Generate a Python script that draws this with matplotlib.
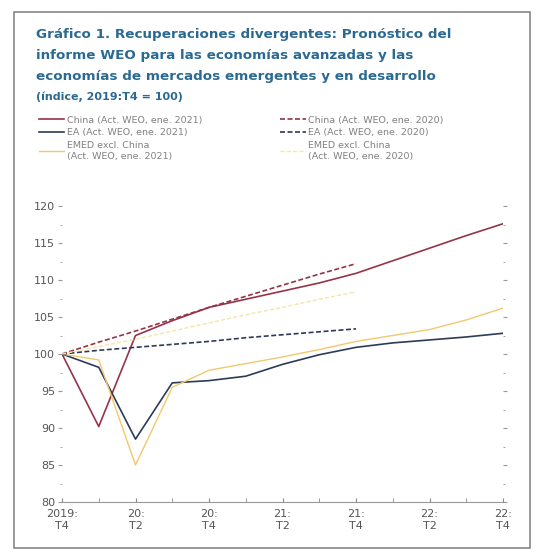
import matplotlib
matplotlib.use('Agg')
import matplotlib.pyplot as plt
from matplotlib.ticker import MultipleLocator
from matplotlib.patches import Rectangle

# trimestres 2019:T4 ... 22:T4
quarters = list(range(13))
tick_labels = ['2019:\nT4', '20:\nT2', '20:\nT4', '21:\nT2', '21:\nT4', '22:\nT2', '22:\nT4']

china_2021 = [100, 90.2, 102.5, 104.5, 106.3, 107.4, 108.5, 109.6, 110.9, 112.6, 114.3, 116.0, 117.6]
ea_2021 = [100, 98.2, 88.5, 96.1, 96.4, 97.0, 98.6, 99.9, 100.9, 101.5, 101.9, 102.3, 102.8]
emed_2021 = [100, 99.2, 85.0, 95.5, 97.8, 98.7, 99.6, 100.6, 101.7, 102.5, 103.3, 104.6, 106.2]

# pronosticos ene. 2020 (hasta 21:T4)
china_2020 = [100, 101.6, 103.1, 104.7, 106.3, 107.8, 109.3, 110.8, 112.2]
ea_2020 = [100, 100.5, 100.9, 101.3, 101.7, 102.2, 102.6, 103.0, 103.4]
emed_2020 = [100, 101.0, 102.0, 103.1, 104.2, 105.3, 106.3, 107.4, 108.4]

red = '#963447'
navy = '#2d3b58'
orange = '#f2c86e'
pale = '#f4e6a6'
blue = '#2a6a92'

fig = plt.figure(figsize=(5.4, 5.53), dpi=100)
fig.patches.append(Rectangle((14/540, 5/553), 516/540, 536/553, transform=fig.transFigure,
                             fill=False, edgecolor='#888888', linewidth=1.2))

fig.text(36/540, 1-28/553,
         'Gráfico 1. Recuperaciones divergentes: Pronóstico del\n'
         'informe WEO para las economías avanzadas y las\n'
         'economías de mercados emergentes y en desarrollo',
         fontsize=9.7, fontweight='bold', color=blue, va='top', linespacing=1.8)
fig.text(36/540, 1-91/553, '(índice, 2019:T4 = 100)', fontsize=8, fontweight='bold',
         color=blue, va='top')

ax = fig.add_axes([62/540, 1-502/553, 441/540, 296/553])

l1, = ax.plot(quarters, china_2021, color=red, lw=1.2, label='China (Act. WEO, ene. 2021)')
l2, = ax.plot(quarters, ea_2021, color=navy, lw=1.2, label='EA (Act. WEO, ene. 2021)')
l3, = ax.plot(quarters, emed_2021, color=orange, lw=1.0, label='EMED excl. China\n(Act. WEO, ene. 2021)')
l4, = ax.plot(quarters[:9], china_2020, color=red, lw=1.2, ls=(0, (3, 1.5)), label='China (Act. WEO, ene. 2020)')
l5, = ax.plot(quarters[:9], ea_2020, color=navy, lw=1.2, ls=(0, (3, 1.5)), label='EA (Act. WEO, ene. 2020)')
l6, = ax.plot(quarters[:9], emed_2020, color=pale, lw=1.0, ls=(0, (3, 1.5)), label='EMED excl. China\n(Act. WEO, ene. 2020)')

ax.set_xlim(0, 12)
ax.set_ylim(80, 120)
ax.set_xticks(quarters[::2])
ax.set_xticklabels(tick_labels, linespacing=1.3)
ax.xaxis.set_minor_locator(MultipleLocator(1))
ax.yaxis.set_major_locator(MultipleLocator(5))
ax.yaxis.set_minor_locator(MultipleLocator(2.5))

for s in ['top', 'left', 'right']:
    ax.spines[s].set_visible(False)
ax.spines['bottom'].set_color('#999999')
ax.spines['bottom'].set_linewidth(0.8)

ax.tick_params(axis='x', which='both', direction='in', length=3, color='#888888',
               labelsize=8, labelcolor='#555555', pad=5)
ax.tick_params(axis='y', which='both', left=True, right=True, direction='out', length=3,
               color='#999999', labelsize=8, labelcolor='#555555', pad=2)
ax.tick_params(axis='y', which='minor', length=1.5)

leg = fig.legend(handles=[l1, l2, l3, l4, l5, l6], ncol=2, loc='upper left',
                 bbox_to_anchor=(34/540, 1-111/553), frameon=False, fontsize=6.8,
                 handlelength=2.7, handletextpad=0.25, columnspacing=8.3,
                 labelspacing=0.36, borderpad=0)
for t in leg.get_texts():
    t.set_color('#808080')
    t.set_linespacing(1.3)

fig.savefig('out.png', dpi=100)
